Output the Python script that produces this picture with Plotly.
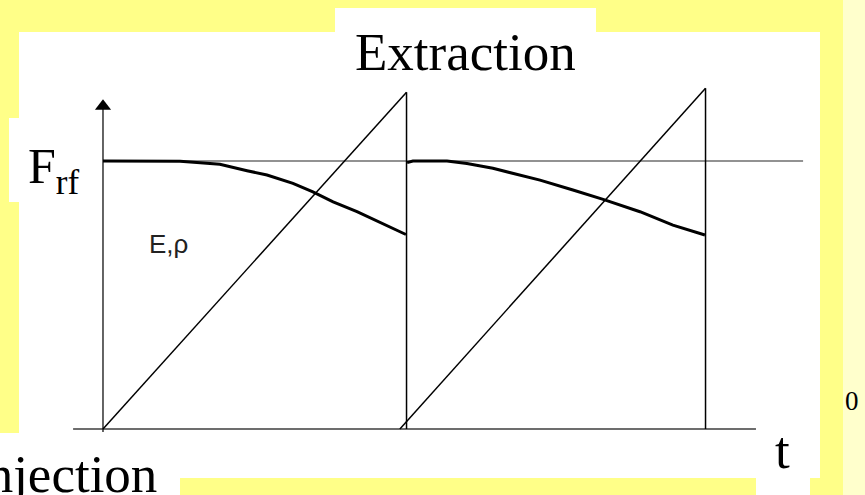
import plotly.graph_objects as go

W, H = 865, 495

# time in units of one cycle, amplitude relative to F_rf
cycle_end = [1.005, 1.995]

ramp1_t = [0.0, 1.005]
ramp1_v = [0.0, 1.257]
ramp2_t = [0.983, 1.995]
ramp2_v = [0.0, 1.272]

env1_t = [0.0, 0.255, 0.311, 0.387, 0.477, 0.543, 0.629, 0.695, 0.762, 0.841, 1.003]
env1_v = [1.0, 0.999, 0.995, 0.988, 0.964, 0.948, 0.917, 0.885, 0.848, 0.811, 0.726]
env2_t = [1.007, 1.026, 1.139, 1.205, 1.291, 1.447, 1.556, 1.656, 1.778, 1.887, 1.993]
env2_v = [0.994, 1.0, 1.0, 0.991, 0.973, 0.929, 0.892, 0.857, 0.811, 0.761, 0.724]

frf_t = [0.0, 2.318]
frf_v = [1.0, 1.0]
taxis_t = [-0.099, 2.162]
yaxis_v = [-0.011, 1.20]
arrow_v = 1.205
vline_v = [0.0, 1.257, 1.272]


def px(x, y):
    return x / W, 1 - y / H


def rect(x0, y0, x1, y1, color):
    a, b = px(x0, y1)
    c, d = px(x1, y0)
    return dict(type="rect", xref="paper", yref="paper", x0=a, y0=b, x1=c, y1=d,
                fillcolor=color, line_width=0, layer="below")


fig = go.Figure()

line = lambda c, w: dict(color=c, width=w)

fig.add_trace(go.Scatter(x=frf_t, y=frf_v, mode="lines", line=line("#6e6e6e", 1.5)))
fig.add_trace(go.Scatter(x=taxis_t, y=[0, 0], mode="lines", line=line("#3c3c3c", 1.5)))
fig.add_trace(go.Scatter(x=[0, 0], y=yaxis_v, mode="lines", line=line("#111111", 1.3)))
fig.add_trace(go.Scatter(x=[0], y=[arrow_v], mode="markers",
                         marker=dict(symbol="triangle-up", size=14, color="black")))
fig.add_trace(go.Scatter(x=ramp1_t, y=ramp1_v, mode="lines", line=line("black", 1.5)))
fig.add_trace(go.Scatter(x=ramp2_t, y=ramp2_v, mode="lines", line=line("black", 1.5)))
fig.add_trace(go.Scatter(x=[cycle_end[0]] * 2, y=vline_v[:2], mode="lines", line=line("black", 1.5)))
fig.add_trace(go.Scatter(x=[cycle_end[1]] * 2, y=[vline_v[0], vline_v[2]], mode="lines",
                         line=line("black", 1.5)))
fig.add_trace(go.Scatter(x=env1_t, y=env1_v, mode="lines", line=line("black", 3)))
fig.add_trace(go.Scatter(x=env2_t, y=env2_v, mode="lines", line=line("black", 3)))

shapes = [
    rect(843, 0, 865, 495, "#FFFFCC"),
    rect(19, 32, 820, 478, "white"),
    rect(335, 8, 596, 32, "white"),
    rect(9, 118, 19, 202, "white"),
    rect(0, 433, 180, 495, "white"),
    rect(756, 478, 810, 495, "white"),
]

serif = "Liberation Serif, Times New Roman, serif"


def label(text, x, y, size, xanchor="center", family=serif, color="black"):
    a, b = px(x, y)
    return dict(text=text, x=a, y=b, xref="paper", yref="paper", showarrow=False,
                xanchor=xanchor, yanchor="middle", font=dict(family=family, size=size, color=color))


annotations = [
    label("Extraction", 466, 52, 53),
    label("F<sub>rf</sub>", 26, 170, 50, xanchor="left"),
    label("E,ρ", 147, 244, 26, xanchor="left", family="Liberation Sans, Arial, sans-serif",
          color="#222222"),
    label("Injection", 159, 474, 53, xanchor="right"),
    label("t", 782, 450, 53),
    label("0", 852, 401, 27),
]

fig.update_layout(
    width=W, height=H,
    margin=dict(l=0, r=0, t=0, b=0),
    paper_bgcolor="#FFFF88",
    plot_bgcolor="rgba(0,0,0,0)",
    showlegend=False,
    shapes=shapes,
    annotations=annotations,
    xaxis=dict(range=[-0.341, 2.523], visible=False, fixedrange=True),
    yaxis=dict(range=[-0.246, 1.601], visible=False, fixedrange=True),
)

fig.write_html("out.html", config={"displayModeBar": False},
               post_script="document.body.style.margin='0';document.body.style.overflow='hidden';")
